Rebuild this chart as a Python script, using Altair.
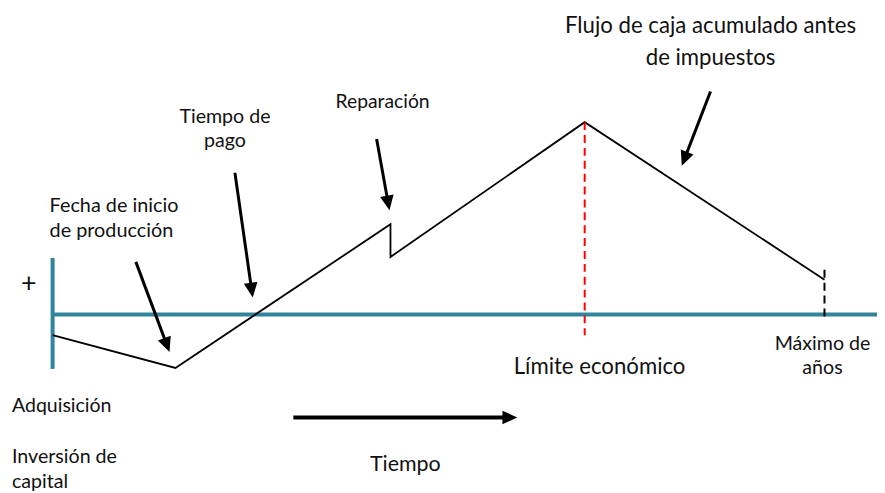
import math
import altair as alt
import pandas as pd

# Diagram coordinates: u = time (origin at the vertical axis), v = accumulated cash (0 at the teal line)
axis_u = [0, 0]
axis_v = [57, -55]
zero_u = [0, 832]
zero_v = [0, 0]

flow_u = [0, 124, 341, 341, 537, 779]
flow_v = [-21, -54, 91, 58, 194, 35]

limit_u = 537
limit_v = [194, -21]
max_u = 779
max_v = [45, -5]

arrow_tail_u = [84, 184, 327, 664, 243]
arrow_tail_v = [53, 143, 177, 225, -104]
arrow_tip_u = [118, 202, 340, 635, 469]
arrow_tip_v = [-38, 17, 105, 150, -104]
arrow_width = [3, 3, 3, 3, 4]

labels = ["Flujo de caja acumulado antes", "de impuestos", "Reparación", "Tiempo de", "pago",
          "Fecha de inicio", "de producción", "+", "Límite económico", "Máximo de", "años",
          "Adquisición", "Inversión de", "capital", "Tiempo"]
label_u = [664, 664, 333, 174, 174, -3, -3, -24, 552, 777, 777, -41, -41, -41, 356]
label_v = [284, 252, 208, 193, 169, 103, 78, 23, -60, -36, -60, -98, -150, -175, -158]
label_align = ["center", "center", "center", "center", "center", "left", "left", "center",
               "center", "center", "center", "left", "left", "left", "center"]
label_size = [22.4, 22.4, 19.5, 19.8, 19.8, 20, 20, 27, 22.4, 19.8, 19.8, 19.7, 19.8, 19.8, 21.6]

TEAL = "#31849B"
XS = alt.Scale(domain=[-45, 832], nice=False, zero=False)
YS = alt.Scale(domain=[-178, 307], nice=False, zero=False)


def X(f):
    return alt.X(f, type="quantitative", scale=XS, axis=None)


def Y(f):
    return alt.Y(f, type="quantitative", scale=YS, axis=None)


teal = pd.DataFrame({
    "u": [axis_u[0], zero_u[0]], "u2": [axis_u[1], zero_u[1]],
    "v": [axis_v[0], zero_v[0]], "v2": [axis_v[1], zero_v[1]],
})
teal_layer = alt.Chart(teal).mark_rule(color=TEAL, strokeWidth=4).encode(
    x=X("u"), x2="u2", y=Y("v"), y2="v2")

flow = pd.DataFrame({"u": flow_u, "v": flow_v, "o": list(range(len(flow_u)))})
flow_layer = alt.Chart(flow).mark_line(color="#000000", strokeWidth=1.8).encode(
    x=X("u"), y=Y("v"), order="o:Q")

dash = pd.DataFrame({"u": [limit_u, max_u], "v": [limit_v[0], max_v[0]],
                     "v2": [limit_v[1], max_v[1]], "c": ["red", "black"]})
dash_layer = alt.Chart(dash).mark_rule(strokeWidth=2, strokeDash=[8, 5]).encode(
    x=X("u"), y=Y("v"), y2="v2",
    color=alt.Color("c:N", scale=alt.Scale(domain=["red", "black"], range=["#FF0000", "#000000"]),
                    legend=None))

# arrow geometry in screen units (1 unit = 1 px here)
rows = []
for tu, tv, pu, pv, w in zip(arrow_tail_u, arrow_tail_v, arrow_tip_u, arrow_tip_v, arrow_width):
    dx, dy = pu - tu, -(pv - tv)
    L = math.hypot(dx, dy)
    ang = math.degrees(math.atan2(dx, -dy)) % 360
    su = pu - (pu - tu) * 8 / L
    sv = pv - (pv - tv) * 8 / L
    rows.append({"u": tu, "v": tv, "u2": su, "v2": sv, "pu": pu, "pv": pv, "ang": ang, "w": w})
arrows = pd.DataFrame(rows)
arrow_lines = alt.Chart(arrows).mark_rule(color="#000000").encode(
    x=X("u"), x2="u2", y=Y("v"), y2="v2",
    strokeWidth=alt.StrokeWidth("w:Q", scale=None))
arrow_heads = alt.Chart(arrows).mark_point(
    shape="M0,0L-0.46,1L0.46,1Z", filled=True, color="#000000", opacity=1, size=900,
    strokeWidth=0).encode(x=X("pu"), y=Y("pv"), angle=alt.Angle("ang:Q", scale=None))

text_df = pd.DataFrame({"t": labels, "u": label_u, "v": label_v, "a": label_align, "s": label_size})
text_layers = []
for al in ["left", "center"]:
    sub = text_df[text_df["a"] == al]
    text_layers.append(
        alt.Chart(sub).mark_text(align=al, baseline="alphabetic", font="Lato", color="#111111").encode(
            x=X("u"), y=Y("v"), text="t:N", size=alt.Size("s:Q", scale=None)))

chart = alt.layer(teal_layer, flow_layer, dash_layer, arrow_lines, arrow_heads, *text_layers).properties(
    width=877, height=485, padding=0,
    autosize=alt.AutoSizeParams(type="none")
).configure_view(stroke=None)

chart.save("out.html", embed_options={"renderer": "svg", "actions": False})
